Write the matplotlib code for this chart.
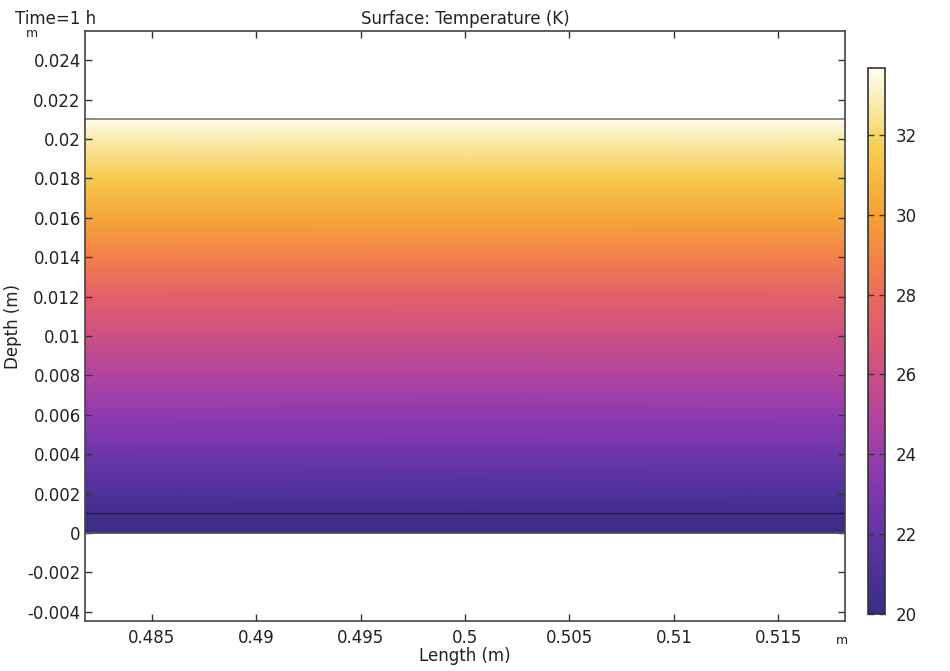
import numpy as np
import matplotlib
matplotlib.use("Agg")
import matplotlib.pyplot as plt
from matplotlib.colors import LinearSegmentedColormap, Normalize
from matplotlib.cm import ScalarMappable

# Temperature profile through the layer (depth in m, temperature in K)
depth = [0.0, 0.001, 0.002, 0.004, 0.006, 0.008, 0.010, 0.012, 0.014, 0.016, 0.018, 0.020, 0.021]
temp = [20.1, 20.45, 21.15, 22.4, 23.65, 24.9, 26.1, 27.4, 28.8, 30.2, 31.5, 32.8, 33.68]
length_range = [0.4818, 0.5182]
interface_depth = 0.001

x_ticks = [0.485, 0.49, 0.495, 0.5, 0.505, 0.51, 0.515]
x_tick_labels = ["0.485", "0.49", "0.495", "0.5", "0.505", "0.51", "0.515"]
y_ticks = [-0.004, -0.002, 0, 0.002, 0.004, 0.006, 0.008, 0.010, 0.012,
           0.014, 0.016, 0.018, 0.020, 0.022, 0.024]
y_tick_labels = ["-0.004", "-0.002", "0", "0.002", "0.004", "0.006", "0.008", "0.01",
                 "0.012", "0.014", "0.016", "0.018", "0.02", "0.022", "0.024"]
cbar_ticks = [20, 22, 24, 26, 28, 30, 32]
t_min, t_max = 20.0, 33.68

# thermal-style colour scale
thermal = LinearSegmentedColormap.from_list("thermal", [
    "#3b2c84", "#4a3196", "#6233a6", "#7c37ad", "#963cad", "#b0449f",
    "#c74d8c", "#dc5876", "#e8665f", "#f2804c", "#f69a3a", "#f6b53b",
    "#f6cf53", "#fae9a4", "#fffcf0"])

text_col = "#222222"
fs = 12
plt.rcParams["font.family"] = "DejaVu Sans"

fig = plt.figure(figsize=(9.5, 6.71), dpi=100)
ax = fig.add_axes([0.0895, 0.0745, 0.8, 0.879])
cax = fig.add_axes([0.9137, 0.085, 0.0179, 0.8137])

X = np.array([[length_range[0], length_range[1]] for _ in depth])
Y = np.array([[d, d] for d in depth])
C = np.array([[t, t] for t in temp])
ax.pcolormesh(X, Y, C, cmap=thermal, vmin=t_min, vmax=t_max, shading="gouraud")

# domain boundaries
ax.axhline(depth[-1], color="#7a7a7a", lw=1.2)
ax.axhline(interface_depth, color="#1e1a30", lw=1.0)
ax.axhline(depth[0], color="#555555", lw=1.2)

ax.set_xlim(length_range)
ax.set_ylim(-0.00447, 0.02547)
ax.set_xticks(x_ticks)
ax.set_xticklabels(x_tick_labels)
ax.set_yticks(y_ticks)
ax.set_yticklabels(y_tick_labels)
ax.tick_params(direction="in", top=True, right=True, length=5, width=1,
               labelsize=fs, colors="#333333", labelcolor=text_col)
ax.tick_params(axis="x", pad=6)
ax.tick_params(axis="y", pad=3)
for s in ax.spines.values():
    s.set_color("#444444")
    s.set_linewidth(1.2)

ax.set_xlabel("Length (m)", fontsize=fs, color=text_col, labelpad=0)
ax.set_ylabel("Depth (m)", fontsize=fs, color=text_col, labelpad=4)
fig.text(0.016, 0.972, "Time=1 h", fontsize=fs, color=text_col, va="center")
fig.text(0.49, 0.972, "Surface: Temperature (K)", fontsize=fs, color=text_col,
         va="center", ha="center")
fig.text(0.027, 0.950, "m", fontsize=9, color=text_col, va="center")
fig.text(0.880, 0.046, "m", fontsize=9, color=text_col, va="center")

cb = fig.colorbar(ScalarMappable(norm=Normalize(t_min, t_max), cmap=thermal), cax=cax)
cb.set_ticks(cbar_ticks)
cb.ax.tick_params(direction="in", left=True, right=True, length=4, width=1,
                  labelsize=fs, colors="#333333", labelcolor=text_col, pad=8)
cb.outline.set_edgecolor("#333333")
cb.outline.set_linewidth(1.2)

fig.savefig("out.png", dpi=100)
